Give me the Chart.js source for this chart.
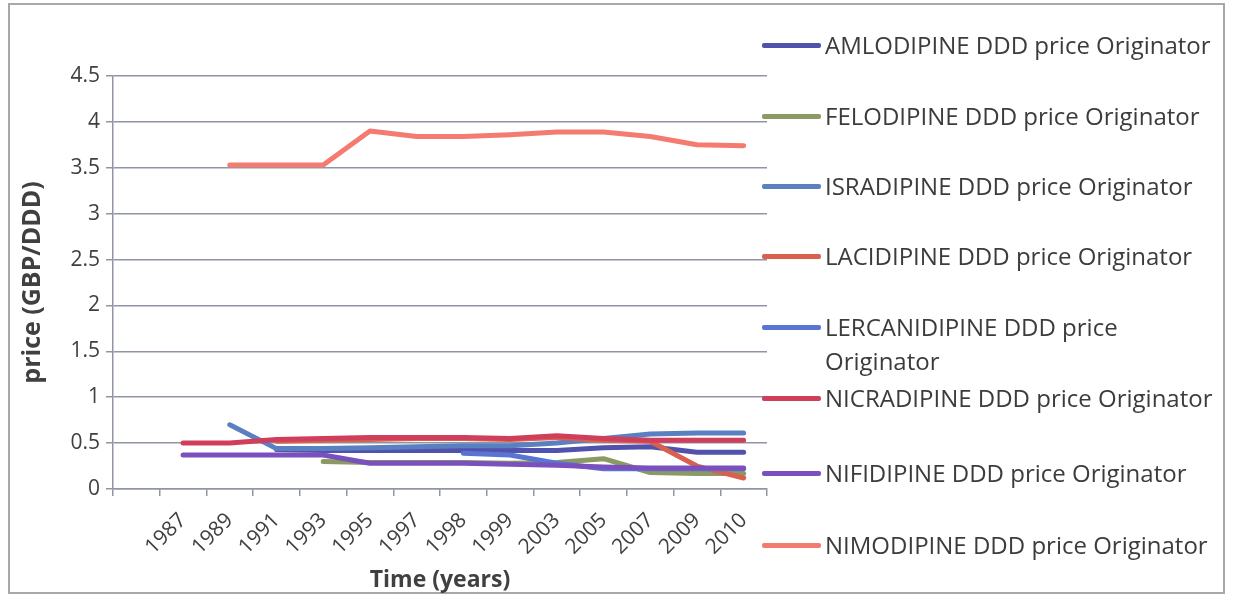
<!DOCTYPE html>
<html>
<head>
<meta charset="utf-8">
<script src="https://cdn.jsdelivr.net/npm/chart.js@4.4.0/dist/chart.umd.min.js"></script>
<style>
  html, body { margin: 0; padding: 0; background: #ffffff; }
  #wrap { position: relative; width: 1235px; height: 597px; overflow: hidden; background: #ffffff; }
  #frame { position: absolute; left: 8px; top: 3px; width: 1217px; height: 591px; border: 2px solid #a8a8a8; box-sizing: border-box; }
  #chart { position: absolute; left: 0; top: 0; }
  #legend { position: absolute; left: 0; top: 0; width: 1235px; height: 597px; pointer-events: none;
            font-family: "Open Sans", sans-serif; font-size: 24px; color: #3c3c3c; }
  .sw { position: absolute; left: 762px; width: 59px; height: 5px; border-radius: 2px; }
  .tx { position: absolute; left: 825px; width: 398px; line-height: 34px; white-space: normal; }
</style>
</head>
<body>
<div id="wrap">
  <div id="frame"></div>
  <canvas id="chart" width="1235" height="597"></canvas>
  <div id="legend"></div>
</div>
<script>
// Category axis: the first slot carries no label
const years = ['', '1987', '1989', '1991', '1993', '1995', '1997', '1998', '1999', '2003', '2005', '2007', '2009', '2010'];

// Originator price per DDD (GBP)
const amlodipine    = [null, null, null, 0.43, 0.42, 0.42, 0.42, 0.42, 0.42, 0.42, 0.45, 0.46, 0.40, 0.40];
const felodipine    = [null, null, null, null, 0.30, 0.29, 0.29, 0.29, 0.28, 0.29, 0.33, 0.18, 0.17, 0.17];
const isradipine    = [null, null, 0.70, 0.44, 0.44, 0.45, 0.46, 0.47, 0.47, 0.50, 0.55, 0.60, 0.61, 0.61];
const lacidipine    = [null, null, null, 0.52, 0.53, 0.54, 0.55, 0.55, 0.54, 0.56, 0.53, 0.52, 0.25, 0.12];
const lercanidipine = [null, null, null, null, null, null, null, 0.39, 0.37, 0.28, 0.22, 0.22, 0.22, 0.22];
const nicradipine   = [null, 0.50, 0.50, 0.54, 0.55, 0.56, 0.56, 0.56, 0.55, 0.58, 0.55, 0.53, 0.53, 0.53];
const nifidipine    = [null, 0.37, 0.37, 0.37, 0.37, 0.28, 0.28, 0.28, 0.27, 0.26, 0.24, 0.23, 0.23, 0.23];
const nimodipine    = [null, null, 3.53, 3.53, 3.53, 3.90, 3.84, 3.84, 3.86, 3.89, 3.89, 3.84, 3.75, 3.74];

const seriesNames = [
  'AMLODIPINE DDD price Originator',
  'FELODIPINE DDD price Originator',
  'ISRADIPINE DDD price Originator',
  'LACIDIPINE DDD price Originator',
  'LERCANIDIPINE DDD price Originator',
  'NICRADIPINE DDD price Originator',
  'NIFIDIPINE DDD price Originator',
  'NIMODIPINE DDD price Originator'
];
const seriesValues = [amlodipine, felodipine, isradipine, lacidipine, lercanidipine, nicradipine, nifidipine, nimodipine];
const seriesColors = ['#5052ac', '#8b9a62', '#5b80c2', '#d8604c', '#5a74d2', '#cf3f5c', '#7a50bf', '#f47b70'];

// y tick values shown on the value axis
const yTicks = [0, 0.5, 1, 1.5, 2, 2.5, 3, 3.5, 4, 4.5];

const gridColor = '#8f95a4';
const textColor = '#404040';

const datasets = seriesNames.map((name, i) => ({
  label: name,
  data: seriesValues[i],
  borderColor: seriesColors[i],
  backgroundColor: seriesColors[i],
  borderWidth: 5,
  pointRadius: 0,
  pointHoverRadius: 0,
  tension: 0,
  borderJoinStyle: 'round',
  borderCapStyle: 'round',
  // later series are painted on top of earlier ones
  order: seriesNames.length - i
}));

new Chart(document.getElementById('chart'), {
  type: 'line',
  data: { labels: years, datasets },
  options: {
    responsive: false,
    animation: false,
    devicePixelRatio: 1,
    layout: { padding: { left: 0, top: 76, right: 468, bottom: 0 } },
    plugins: { legend: { display: false }, tooltip: { enabled: false } },
    scales: {
      x: {
        offset: true,
        grid: { offset: true, drawOnChartArea: false, drawTicks: true, tickLength: 7, color: gridColor, lineWidth: 1.5 },
        border: { display: true, color: gridColor, width: 1.5 },
        ticks: {
          autoSkip: false, maxRotation: 45, minRotation: 45, padding: 12,
          color: textColor, font: { family: 'Open Sans', size: 21 }
        },
        title: {
          display: true, text: 'Time (years)', color: textColor,
          font: { family: 'Open Sans', size: 23, weight: 'bold' },
          padding: { top: 0, bottom: 3 }
        },
        afterFit(scale) { scale.height = 108; }
      },
      y: {
        min: yTicks[0],
        max: yTicks[yTicks.length - 1],
        afterBuildTicks(scale) { scale.ticks = yTicks.map(v => ({ value: v })); },
        grid: { drawTicks: true, tickLength: 7, color: gridColor, lineWidth: 1.5 },
        border: { display: true, color: gridColor, width: 1.5 },
        ticks: {
          padding: 6, color: textColor, font: { family: 'Open Sans', size: 21 },
          callback: v => String(v)
        },
        title: {
          display: true, text: 'price (GBP/DDD)', color: textColor,
          font: { family: 'Open Sans', size: 25, weight: 'bold' },
          padding: { top: 18, bottom: 0 }
        },
        afterFit(scale) { scale.width = 113; }
      }
    }
  }
});

// Legend to the right of the plot
const legendRows = [45, 116, 186, 256, 327, 398, 473, 545];
const legend = document.getElementById('legend');
seriesNames.forEach((name, i) => {
  const sw = document.createElement('div');
  sw.className = 'sw';
  sw.style.top = (legendRows[i] - 2.5) + 'px';
  sw.style.background = seriesColors[i];
  legend.appendChild(sw);
  const tx = document.createElement('div');
  tx.className = 'tx';
  tx.style.top = (legendRows[i] - 17) + 'px';
  tx.textContent = name;
  legend.appendChild(tx);
});
</script>
</body>
</html>
